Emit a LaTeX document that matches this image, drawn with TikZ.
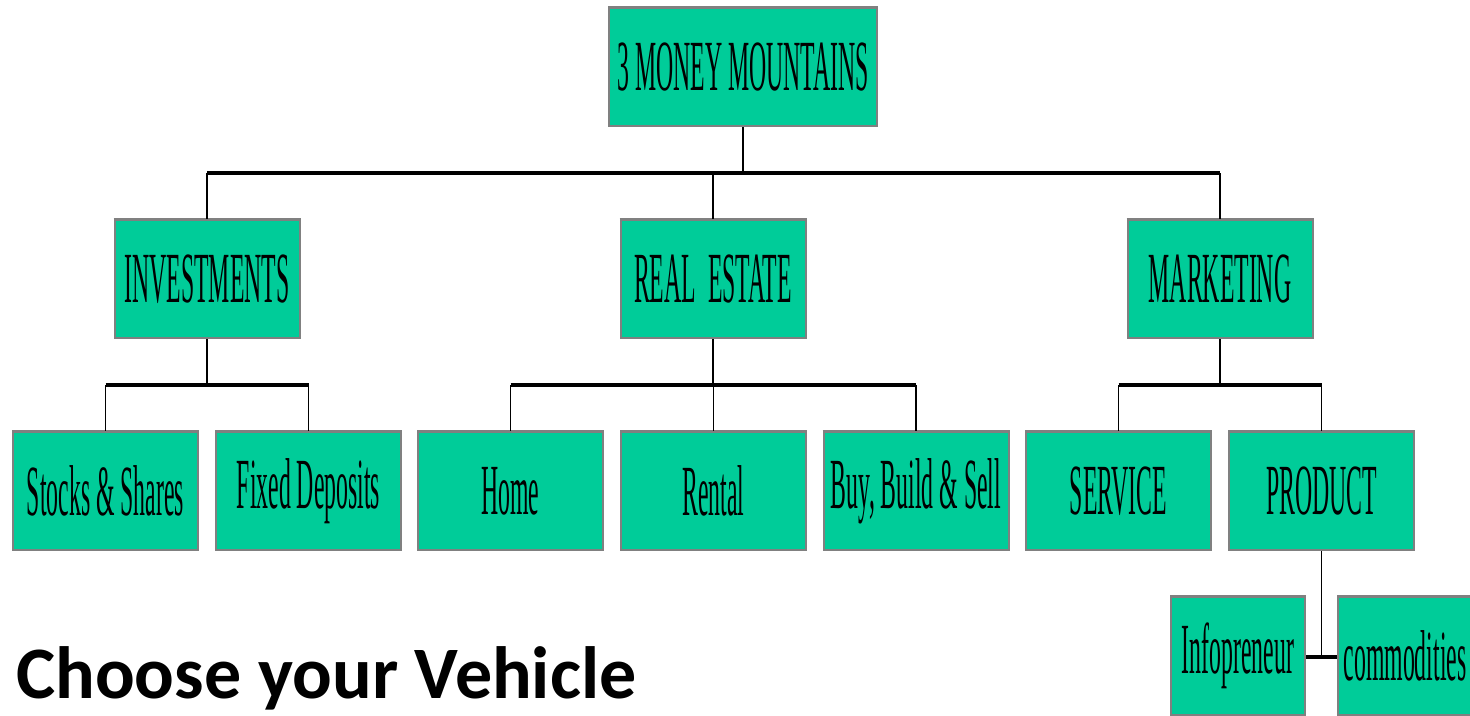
\documentclass[tikz,border=0pt]{standalone}
\usepackage{fontspec}
\usepackage{graphicx}
\setmainfont{Liberation Serif}
\newfontfamily\carl{Carlito}
\definecolor{boxgreen}{HTML}{00CC99}
\definecolor{boxedge}{HTML}{808080}
\newcommand{\bt}[1]{\scalebox{0.33}[1]{\fontsize{72}{72}\selectfont #1}}
\tikzset{
  gbox/.style={draw=boxedge, line width=2pt, fill=boxgreen, inner sep=0pt,
    minimum width=185pt, minimum height=118pt, text=black},
  thin/.style={line width=1.6pt},
  thick/.style={line width=3.2pt},
}
\begin{document}
\begin{tikzpicture}[x=1pt,y=-1pt]
\useasboundingbox (0,0) rectangle (1470,715);
% nodes
\node[gbox, minimum width=268pt] (top) at (743,67) {\bt{3 MONEY MOUNTAINS}};
\node[gbox] (inv) at (207,279) {\bt{INVESTMENTS}};
\node[gbox] (re) at (713,279) {\bt{REAL\ \ ESTATE}};
\node[gbox] (mk) at (1220,279) {\bt{MARKETING}};
\node[gbox] (st) at (105.5,491) {\bt{Stocks \& Shares}};
\node[gbox] (fd) at (308.5,491) {\bt{Fixed Deposits}};
\node[gbox] (hm) at (510.5,491) {\bt{Home}};
\node[gbox] (rn) at (713.5,491) {\bt{Rental}};
\node[gbox] (bb) at (916,491) {\bt{Buy, Build \& Sell}};
\node[gbox] (sv) at (1118.5,491) {\bt{SERVICE}};
\node[gbox] (pr) at (1321.5,491) {\bt{PRODUCT}};
\node[gbox, minimum width=134pt] (ip) at (1238,656) {\bt{Infopreneur}};
\node[gbox, minimum width=134pt] (cm) at (1405,656) {\bt{commodities}};
\foreach \n in {top,inv,re,mk,st,fd,hm,rn,bb,sv,pr,ip,cm}{
  \draw[boxedge, line width=3pt] ([yshift=-0.5pt]\n.north west) -- ([yshift=-0.5pt]\n.north east);
}
% level 1 connectors
\coordinate (b1) at (743,173);
\draw[thin] (top.south) -- (b1);
\draw[thick] (inv.north |- b1) -- (mk.north |- b1);
\draw[thin] (inv.north |- b1) -- (inv.north);
\draw[thin] (re.north |- b1) -- (re.north);
\draw[thin] (mk.north |- b1) -- (mk.north);
% investments
\coordinate (b2) at (207,385);
\draw[thin] (inv.south) -- (b2);
\draw[thick] (st.north |- b2) -- (fd.north |- b2);
\draw[thin] (st.north |- b2) -- (st.north);
\draw[thin] (fd.north |- b2) -- (fd.north);
% real estate
\coordinate (b3) at (713,385);
\draw[thin] (re.south) -- (b3);
\draw[thick] (hm.north |- b3) -- (bb.north |- b3);
\draw[thin] (hm.north |- b3) -- (hm.north);
\draw[thin] (rn.north |- b3) -- (rn.north);
\draw[thin] (bb.north |- b3) -- (bb.north);
% marketing
\coordinate (b4) at (1220,385);
\draw[thin] (mk.south) -- (b4);
\draw[thick] (sv.north |- b4) -- (pr.north |- b4);
\draw[thin] (sv.north |- b4) -- (sv.north);
\draw[thin] (pr.north |- b4) -- (pr.north);
% product
\coordinate (b5) at (1321.5,657);
\draw[thin] (pr.south) -- (b5);
\draw[thick] (ip.east |- b5) -- (cm.west |- b5);
% title
\node[anchor=base west, inner sep=0pt, font=\carl\bfseries\fontsize{74}{74}\selectfont] (title) at (16,698) {Choose your Vehicle};
\end{tikzpicture}
\end{document}
